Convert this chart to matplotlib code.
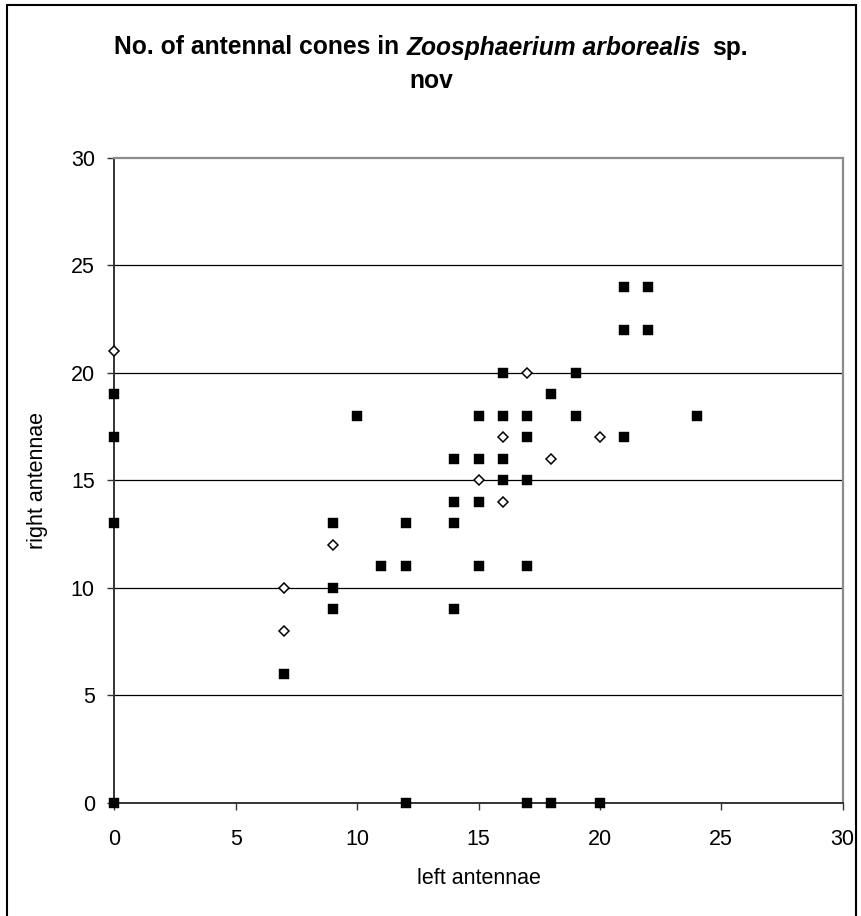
import matplotlib
matplotlib.use('Agg')
import matplotlib.pyplot as plt
from matplotlib.patches import Rectangle

# ---------------- data ----------------
solid_left = [0, 0, 0, 0, 7, 9, 9, 9, 10, 11, 12, 12, 12, 14, 14, 14, 14,
              15, 15, 15, 15, 16, 16, 16, 16, 17, 17, 17, 17, 17, 18, 18,
              19, 19, 20, 21, 21, 21, 22, 22, 24]
solid_right = [0, 13, 17, 19, 6, 9, 10, 13, 18, 11, 0, 11, 13, 9, 13, 14, 16,
               11, 14, 16, 18, 15, 16, 18, 20, 0, 11, 15, 17, 18, 0, 19,
               18, 20, 0, 17, 22, 24, 22, 24, 18]
open_left = [0, 7, 7, 9, 15, 16, 16, 17, 18, 20]
open_right = [21, 8, 10, 12, 15, 14, 17, 20, 16, 17]

x_ticks = [0, 5, 10, 15, 20, 25, 30]
y_ticks = [0, 5, 10, 15, 20, 25, 30]

title_parts = [("No. of antennal cones in", "normal"),
               ("Zoosphaerium arborealis", "italic"),
               ("sp.", "normal")]
title_line2 = "nov"
x_label = "left antennae"
y_label = "right antennae"

# ---------------- figure ----------------
W, H = 862, 916
FONT = "Liberation Sans"
plt.rcParams['font.family'] = [FONT, 'DejaVu Sans']

fig = plt.figure(figsize=(W / 100, H / 100), dpi=100)
fig.patch.set_facecolor('white')

L, R, T, B = 114.3, 842.7, 157.7, 802.7
ax = fig.add_axes([L / W, 1 - B / H, (R - L) / W, (B - T) / H])

ax.set_xlim(0, 30)
ax.set_ylim(0, 30)
ax.set_xticks(x_ticks)
ax.set_yticks(y_ticks)
ax.set_xticklabels([str(v) for v in x_ticks])
ax.set_yticklabels([str(v) for v in y_ticks])

for yv in y_ticks[1:-1]:
    ax.axhline(yv, color='black', lw=0.9, zorder=1)

for s in ['top', 'right']:
    ax.spines[s].set_color('#8c8c8c')
    ax.spines[s].set_linewidth(1.6)
for s in ['left', 'bottom']:
    ax.spines[s].set_color('#333333')
    ax.spines[s].set_linewidth(1.4)

ax.tick_params(axis='both', direction='out', length=5, width=1.0,
               color='#333333', labelsize=15.5)
ax.tick_params(axis='x', pad=14)
ax.tick_params(axis='y', pad=9)

ax.plot(solid_left, solid_right, linestyle='none', marker='s', markersize=7.8,
        markerfacecolor='black', markeredgecolor='black', markeredgewidth=0.3,
        clip_on=False, zorder=3)
ax.plot(open_left, open_right, linestyle='none', marker='D', markersize=5.6,
        markerfacecolor='white', markeredgecolor='black', markeredgewidth=1.1,
        clip_on=False, zorder=4)

# axis labels
fig.text(((L + R) / 2) / W, 1 - 878 / H, x_label, ha='center', va='center',
         fontsize=15.5)
fig.text(38 / W, 1 - ((T + B) / 2) / H, y_label, ha='center', va='center',
         rotation=90, fontsize=15.5)

# title with mixed styles
TS = 17.7
renderer = fig.canvas.get_renderer()


def width_of(txt, style):
    t = fig.text(0, 0, txt, fontsize=TS, fontweight='bold', style=style)
    w = t.get_window_extent(renderer).width
    t.remove()
    return w


space_w = width_of("a a", "normal") - width_of("aa", "normal")
widths = [width_of(p, st) for p, st in title_parts]
total = sum(widths) + space_w * (len(widths) - 1) + 4
x0 = W / 2 - total / 2
base1 = 1 - 54.5 / H
for i, ((p, st), w) in enumerate(zip(title_parts, widths)):
    fig.text(x0 / W, base1, p, fontsize=TS, fontweight='bold', style=st,
             ha='left', va='baseline')
    x0 += w + space_w + (4 if st == 'italic' else 0)
fig.text(0.5, 1 - 87.5 / H, title_line2, fontsize=TS, fontweight='bold',
         ha='center', va='baseline')

# outer frame
fig.patches.append(Rectangle((7 / W, -0.01), (856 - 7) / W, (1 - 5 / H) + 0.01,
                             transform=fig.transFigure, fill=False,
                             edgecolor='black', linewidth=1.5, zorder=10))

fig.savefig('out.png', dpi=100, facecolor='white')
